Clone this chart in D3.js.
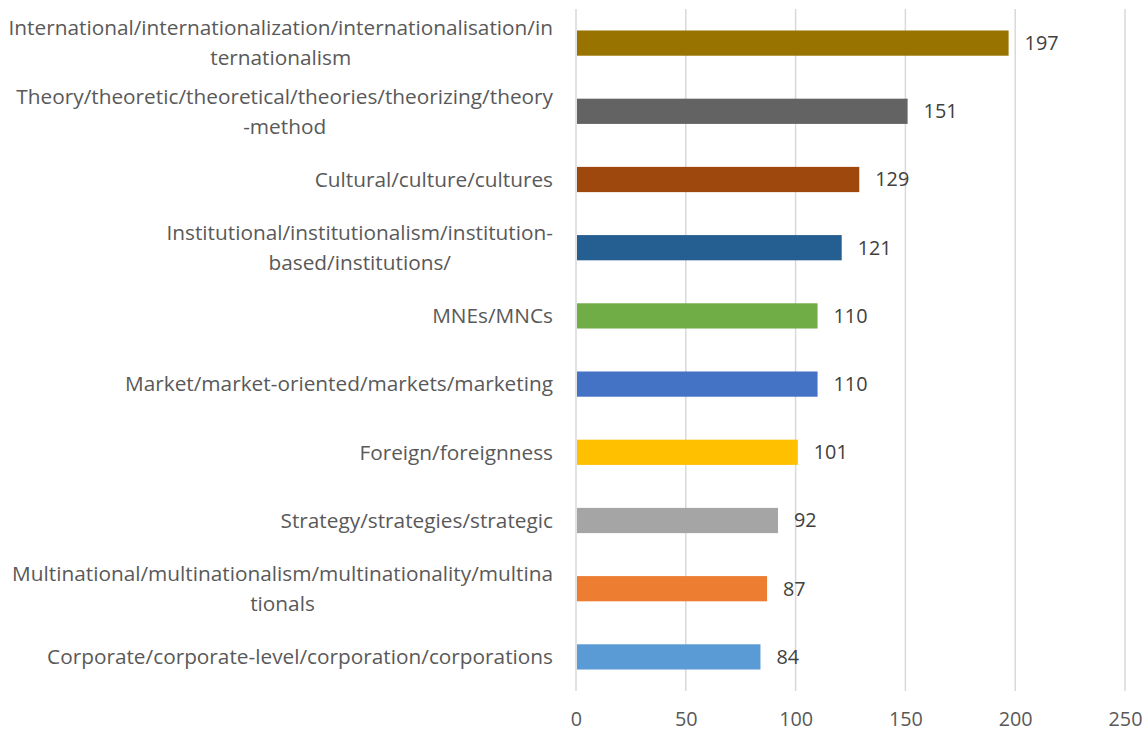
<!DOCTYPE html>
<html><head><meta charset="utf-8">
<script src="https://cdn.jsdelivr.net/npm/d3@7"></script>
<style>body{margin:0;background:#fff}svg{display:block}</style>
</head><body>
<svg id="c" width="1148" height="733"></svg>
<script>
const categories = [
  ["International/internationalization/internationalisation/in","ternationalism"],
  ["Theory/theoretic/theoretical/theories/theorizing/theory","-method"],
  ["Cultural/culture/cultures"],
  ["Institutional/institutionalism/institution-","based/institutions/"],
  ["MNEs/MNCs"],
  ["Market/market-oriented/markets/marketing"],
  ["Foreign/foreignness"],
  ["Strategy/strategies/strategic"],
  ["Multinational/multinationalism/multinationality/multina","tionals"],
  ["Corporate/corporate-level/corporation/corporations"]
];
const values = [197,151,129,121,110,110,101,92,87,84];
const colors = ["#997300","#636363","#9E480E","#255E91","#70AD47","#4472C4","#FFC000","#A5A5A5","#ED7D31","#5B9BD5"];
const xTicks = [0,50,100,150,200,250];

const svg = d3.select("#c");
const font = "'Open Sans', sans-serif";
const fs = "19.8px", fsCat = "20.8px";
const x = d3.scaleLinear().domain([0,250]).range([576,1125]);
const y = d3.scaleBand().domain(d3.range(values.length)).range([9,691]).paddingInner(0.63).paddingOuter(0.315);

// gridlines
svg.append("g").selectAll("line").data(xTicks).join("line")
  .attr("x1",d=>x(d)).attr("x2",d=>x(d)).attr("y1",9).attr("y2",691)
  .attr("stroke","#d9d9d9").attr("stroke-width",1.5);

// x axis labels
const xa = svg.append("g").attr("transform","translate(0,720)")
  .call(d3.axisBottom(x).tickValues(xTicks).tickSize(0).tickPadding(0));
xa.select(".domain").remove();
xa.selectAll("text").attr("fill","#595959").attr("font-size",fs).attr("font-family",font).attr("dy","0.32em");

// bars
svg.append("g").selectAll("rect").data(values).join("rect")
  .attr("x",x(0)+1).attr("y",(d,i)=>y(i)).attr("width",d=>x(d)-x(0)-1).attr("height",y.bandwidth())
  .attr("fill",(d,i)=>colors[i]);

// value labels
svg.append("g").selectAll("text").data(values).join("text")
  .attr("x",d=>x(d)+16).attr("y",(d,i)=>y(i)+y.bandwidth()/2).attr("dy","0.35em")
  .attr("fill","#404040").attr("font-size",fs).attr("font-family",font).text(d=>d);

// category labels (multi-line blocks right-aligned, lines centred within block)
const lh = 30, right = 553;
svg.append("g").selectAll("g").data(categories).join("g")
  .each(function(lines,i){
    const g = d3.select(this);
    const cy = y(i)+y.bandwidth()/2;
    const y0 = cy - (lines.length-1)*lh/2;
    const ts = lines.map((ln,k)=>g.append("text").attr("y",y0+k*lh).attr("dy","0.35em")
      .attr("fill","#595959").attr("font-size",fsCat).attr("font-family",font).text(ln));
    const w = Math.max(...ts.map(t=>t.node().getComputedTextLength()));
    const cx = right - w/2;
    ts.forEach(t=>t.attr("x",cx).attr("text-anchor","middle"));
  });
</script>
</body></html>
